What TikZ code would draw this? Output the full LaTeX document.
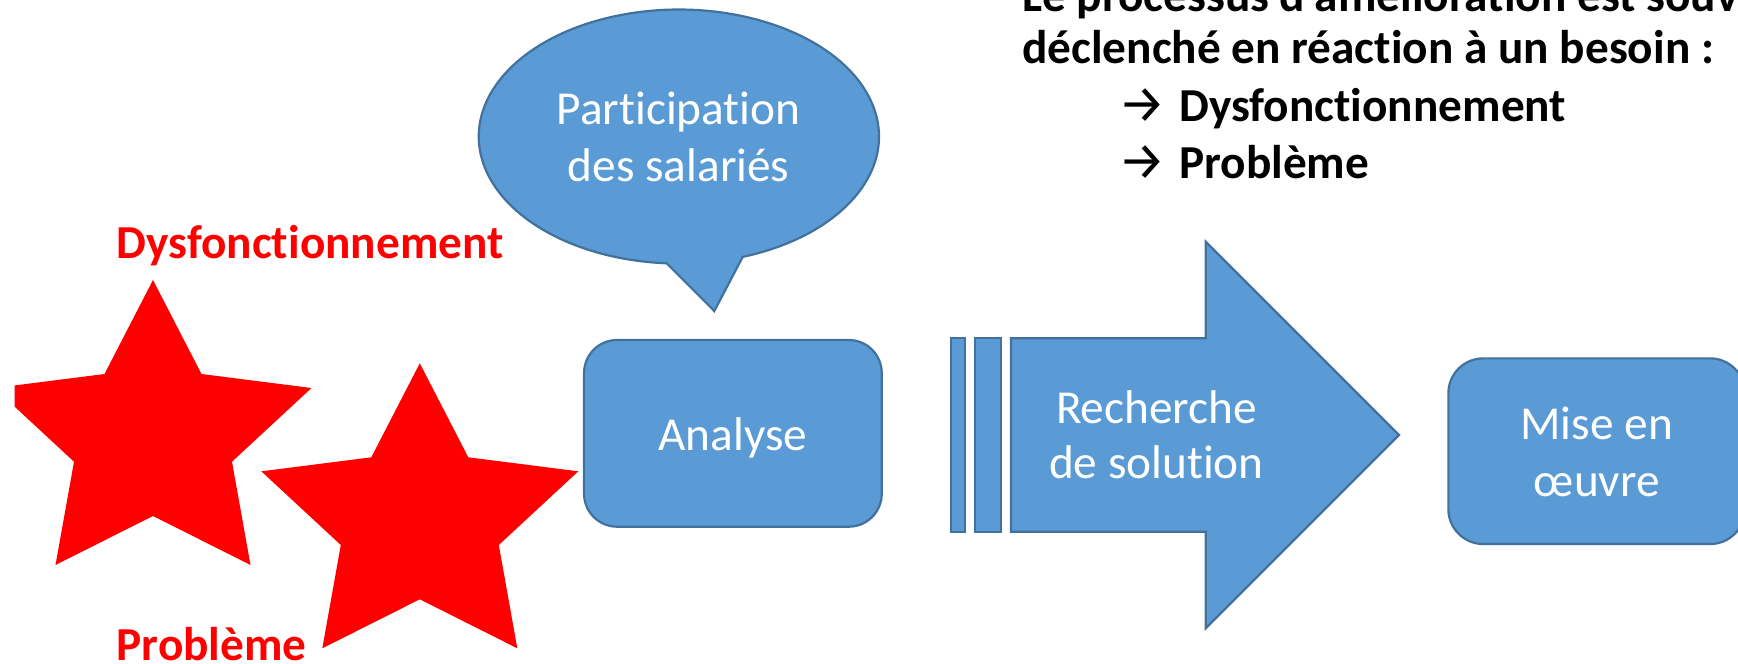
\documentclass[tikz,border=0pt]{standalone}
\usepackage{fontspec}
\setmainfont{Carlito}[Ligatures=NoCommon]
\newfontfamily\arrowfont{Fira Sans}
\definecolor{shapefill}{HTML}{5B9BD5}
\definecolor{shapeline}{HTML}{41719C}
\definecolor{alarm}{HTML}{FF0000}
\tikzset{
  blueshape/.style={fill=shapefill, draw=shapeline, line width=2.2pt, line join=miter},
  roundbox/.style={blueshape, rectangle, inner sep=0pt},
  wtxt/.style={inner sep=0pt, text=white, font=\fontsize{47.3}{56.5}\selectfont},
  btxt/.style={inner sep=0pt, text=black, font=\bfseries\fontsize{47.3}{56.5}\selectfont},
  rtxt/.style={inner sep=0pt, text=alarm, font=\bfseries\fontsize{47.3}{56.5}\selectfont},
  arrtxt/.style={inner sep=0pt, text=black, font=\arrowfont\fontsize{53}{60}\selectfont},
  redstar/.pic={
    \fill[alarm] (0,0) -- (48.5,94) -- (158.5,108) -- (79,181.7) -- (97.5,285)
      -- (0,236) -- (-97.5,285) -- (-79,181.7) -- (-158.5,108) -- (-48.5,94) -- cycle;
  }
}
\begin{document}
\begin{tikzpicture}[x=1pt,y=-1pt]
\useasboundingbox (0,0) rectangle (1738,664);
\clip (0,0) rectangle (1738,664);

% speech bubble
\coordinate (ptip) at (714.3,311);
\draw[blueshape] (ptip) -- (742.7,256.9)
  arc[start angle=71.4, end angle=-266.5, x radius=200.1, y radius=127] -- cycle;
\node[wtxt, anchor=base] (part1) at (678.6,124.5) {Participation};
\node[wtxt, anchor=base] (part2) at (678.6,181.5) {des salariés};

% Analyse
\node[roundbox, rounded corners=33pt, minimum width=297.7pt, minimum height=186.7pt] (analyse) at (732.9,433.35) {};
\node[wtxt, anchor=base] (analyset) at (732.7,450) {Analyse};

% striped arrow
\draw[blueshape] (951,338.3) rectangle (964.7,531.7);
\draw[blueshape] (975,338.3) rectangle (1000.7,531.7);
\draw[blueshape] (1011,338.3) -- (1205.7,338.3) -- (1205.7,241.7) -- (1399,435)
  -- (1205.7,628.3) -- (1205.7,531.7) -- (1011,531.7) -- cycle;
\node[wtxt, anchor=base] (rech1) at (1156.5,423.3) {Recherche};
\node[wtxt, anchor=base] (rech2) at (1156.5,478.3) {de solution};

% Mise en oeuvre
\node[roundbox, rounded corners=35pt, minimum width=296.7pt, minimum height=185.7pt] (mise) at (1596.7,451.2) {};
\node[wtxt, anchor=base] (mise1) at (1596.7,439.3) {Mise en};
\node[wtxt, anchor=base] (mise2) at (1596.7,496.7) {œuvre};

% stars
\begin{scope}
  \clip (14.5,0) rectangle (1738,664);
  \pic at (153,280) {redstar};
\end{scope}
\pic at (419.8,363.3) {redstar};

\node[rtxt, anchor=base west] (dysf) at (116.5,258.3) {Dysfonctionnement};
\node[rtxt, anchor=base west] (prob) at (116.5,660) {Problème};

% text top right
\node[btxt, anchor=base west] (line1) at (1022,11) {Le processus d’amélioration est souvent};
\node[btxt, anchor=base west] (line2) at (1022,63.3) {déclenché en réaction à un besoin :};
\node[arrtxt, anchor=base west] (arr1) at (1118,122.5) {→};
\node[btxt, anchor=base west] (line3) at (1179,121.7) {Dysfonctionnement};
\node[arrtxt, anchor=base west] (arr2) at (1118,179.1) {→};
\node[btxt, anchor=base west] (line4) at (1179,178.3) {Problème};
\end{tikzpicture}
\end{document}
